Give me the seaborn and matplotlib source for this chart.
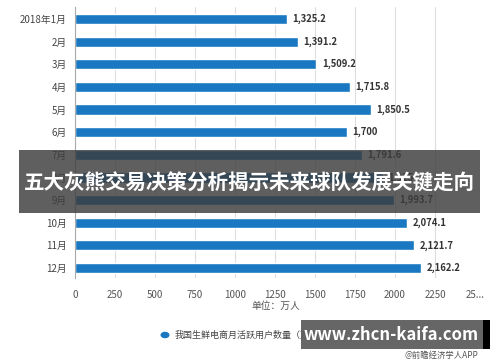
import matplotlib
matplotlib.use("Agg")
import matplotlib.pyplot as plt
import seaborn as sns
import pandas as pd
from matplotlib.patches import Rectangle, Circle

months = ["2018年1月", "2月", "3月", "4月", "5月", "6月", "7月", "8月", "9月", "10月", "11月", "12月"]
users = [1325.2, 1391.2, 1509.2, 1715.8, 1850.5, 1700, 1791.6, 1925.0, 1993.7, 2074.1, 2121.7, 2162.2]
xticks = [0, 250, 500, 750, 1000, 1250, 1500, 1750, 2000, 2250, 2500]
xticklabels = ["0", "250", "500", "750", "1000", "1250", "1500", "1750", "2000", "2250", "25..."]
legend_label = "我国生鲜电商月活跃用户数量（万人）"
unit_label = "单位：万人"
banner_text = "五大灰熊交易决策分析揭示未来球队发展关键走向"

sns.set_theme(style="white")
plt.rcParams['font.family'] = ['Noto Sans CJK SC', 'DejaVu Sans']

df = pd.DataFrame({"month": months, "users": users})

fig = plt.figure(figsize=(5, 3.62), dpi=100)
ax = fig.add_axes([0.15, 1 - 278 / 362, 0.80, 271 / 362])
sns.barplot(data=df, y="month", x="users", color="#1a78c2", width=0.45, ax=ax, saturation=1)
ax.set_xlim(0, 2500)
ax.set_ylim(11.44, -0.53)
ax.set_xticks(xticks)
ax.set_xticklabels(xticklabels, fontsize=7, color="#555555")
ax.tick_params(axis="y", labelsize=7, colors="#444444", length=3, width=0.6, color="#999999", pad=3)
ax.tick_params(axis="x", length=0, pad=9)
ax.set_xlabel("")
ax.set_ylabel("")
ax.grid(axis="x", color="#dddddd", linewidth=0.8)
ax.set_axisbelow(True)
for s in ["top", "right", "bottom"]:
    ax.spines[s].set_visible(False)
ax.spines["left"].set_color("#aaaaaa")
ax.spines["left"].set_linewidth(0.8)

for i, v in enumerate(users):
    lab = f"{v:,.1f}"
    if lab.endswith(".0"):
        lab = lab[:-2]
    ax.text(v + 35, i, lab, va="center", ha="left", fontsize=6.8, color="#333333", fontweight="bold")

fig.text(276 / 500, 1 - 306 / 362, unit_label, ha="center", va="center", fontsize=7, color="#555555")

# legend
fig.patches.append(Circle((165 / 500, 1 - 335 / 362), 0.009, transform=fig.transFigure,
                          facecolor="#1a78c2", edgecolor="none"))
fig.text(175 / 500, 1 - 335 / 362, legend_label, ha="left", va="center", fontsize=6.5, color="#444444")

# banner overlay
fig.patches.append(Rectangle((19 / 500, 1 - 213 / 362), 461 / 500, 63 / 362, transform=fig.transFigure,
                             facecolor="#3c3c3c", alpha=0.82, edgecolor="none", zorder=10))
fig.text(0.498, 1 - 183 / 362, banner_text, ha="center", va="center", fontsize=14.8,
         color="white", fontweight="bold", zorder=11)

# bottom watermark box
fig.patches.append(Rectangle((301 / 500, 1 - 349 / 362), 182 / 500, 29 / 362, transform=fig.transFigure,
                             facecolor="#5e5e5e", alpha=0.95, edgecolor="none", zorder=10))
fig.patches.append(Rectangle((483 / 500, 1 - 349 / 362), 7 / 500, 29 / 362, transform=fig.transFigure,
                             facecolor="#000000", edgecolor="none", zorder=10))
fig.text(391 / 500, 1 - 335 / 362, "www.zhcn-kaifa.com", ha="center", va="center", fontsize=12,
         color="white", fontweight="bold", zorder=11)
fig.text(478 / 500, 1 - 355 / 362, "@前瞻经济学人APP", ha="right", va="center", fontsize=6,
         color="#555555", zorder=11)

fig.savefig("out.png", dpi=100)
